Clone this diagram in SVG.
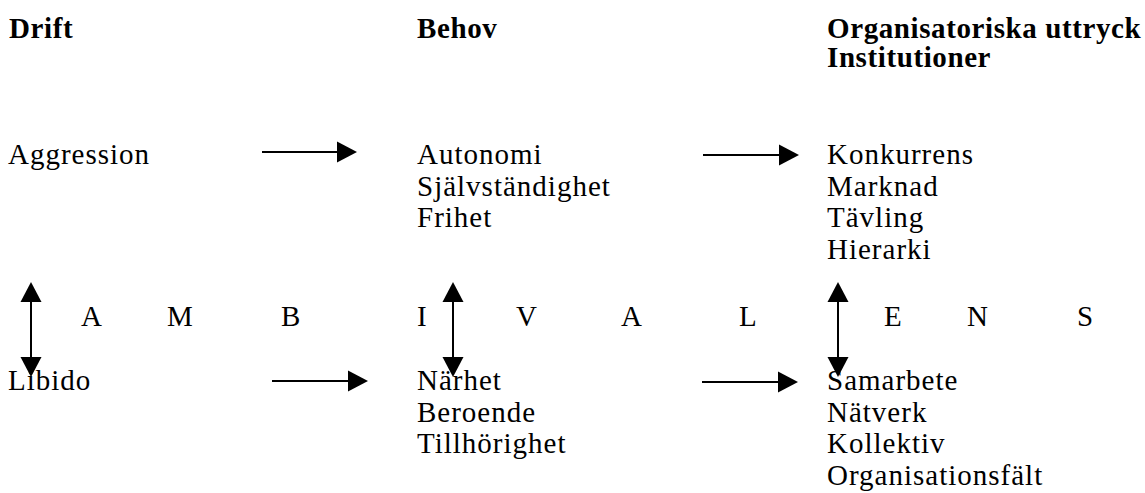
<svg xmlns="http://www.w3.org/2000/svg" width="1145" height="493" viewBox="0 0 1145 493">
  <style>
    text { font-family: "Liberation Serif", "Times New Roman", serif; font-size: 29px; fill: #000; letter-spacing: 1px; }
    .h { font-weight: bold; letter-spacing: 0.6px; }
    .c line { stroke: #000; stroke-width: 2; fill: none; }
  </style>
  <defs>
    <marker id="ah" markerUnits="userSpaceOnUse" markerWidth="20" markerHeight="21" refX="0" refY="10.5" orient="auto-start-reverse" overflow="visible">
      <path d="M0,0 L20,10.5 L0,21 Z" fill="#000"/>
    </marker>
  </defs>
  <rect width="1145" height="493" fill="#fff"/>

  <g id="headers">
    <text class="h" x="9" y="38">Drift</text>
    <text class="h" x="417" y="38">Behov</text>
    <text class="h" x="827" y="38">Organisatoriska uttryck</text>
    <text class="h" x="827" y="67">Institutioner</text>
  </g>

  <g id="node-aggression"><text x="8" y="164">Aggression</text></g>
  <g id="node-behov-upper">
    <text x="417" y="164">Autonomi</text>
    <text x="417" y="195.5">Självständighet</text>
    <text x="417" y="227">Frihet</text>
  </g>
  <g id="node-inst-upper">
    <text x="827" y="164">Konkurrens</text>
    <text x="827" y="195.5">Marknad</text>
    <text x="827" y="227">Tävling</text>
    <text x="827" y="258.5">Hierarki</text>
  </g>

  <g id="ambivalens">
    <text x="81" y="326">A</text>
    <text x="167" y="326">M</text>
    <text x="281" y="326">B</text>
    <text x="417" y="326">I</text>
    <text x="516" y="326">V</text>
    <text x="621" y="326">A</text>
    <text x="739" y="326">L</text>
    <text x="884" y="326">E</text>
    <text x="967" y="326">N</text>
    <text x="1077" y="326">S</text>
  </g>

  <g id="node-libido"><text x="8" y="390">Libido</text></g>
  <g id="node-behov-lower">
    <text x="417" y="390">Närhet</text>
    <text x="417" y="421.5">Beroende</text>
    <text x="417" y="453">Tillhörighet</text>
  </g>
  <g id="node-inst-lower">
    <text x="827" y="390">Samarbete</text>
    <text x="827" y="421.5">Nätverk</text>
    <text x="827" y="453">Kollektiv</text>
    <text x="827" y="484.5">Organisationsfält</text>
  </g>

  <g id="connectors" class="c">
    <line x1="262" y1="152" x2="337" y2="152" marker-end="url(#ah)"/>
    <line x1="703" y1="155" x2="779" y2="155" marker-end="url(#ah)"/>
    <line x1="272" y1="381" x2="348" y2="381" marker-end="url(#ah)"/>
    <line x1="702" y1="382" x2="778" y2="382" marker-end="url(#ah)"/>
    <line x1="31" y1="302" x2="31" y2="357" marker-start="url(#ah)" marker-end="url(#ah)"/>
    <line x1="453" y1="302" x2="453" y2="357" marker-start="url(#ah)" marker-end="url(#ah)"/>
    <line x1="838" y1="302" x2="838" y2="357" marker-start="url(#ah)" marker-end="url(#ah)"/>
  </g>
</svg>
